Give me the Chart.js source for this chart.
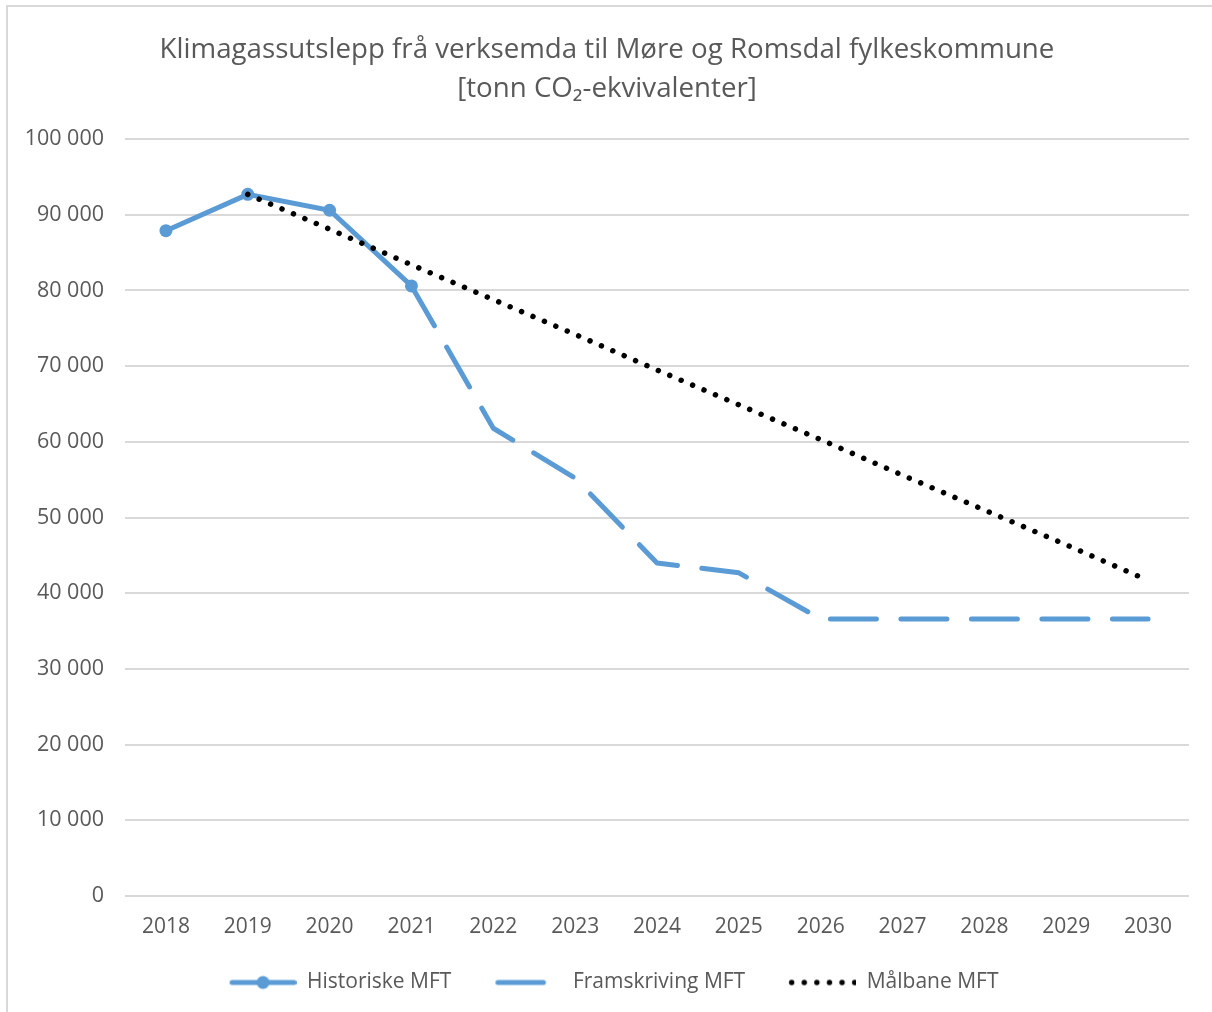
<!DOCTYPE html>
<html>
<head>
<meta charset="utf-8">
<script src="https://cdn.jsdelivr.net/npm/chart.js@4"></script>
<style>
  html, body { margin: 0; padding: 0; background: #fff; }
  #frame {
    position: absolute; left: 6px; top: 5px; width: 1206px; height: 1007px;
    border-left: 2px solid #d9d9d9; border-top: 2px solid #d9d9d9;
    box-sizing: border-box;
  }
  #wrap { position: absolute; left: 8px; top: 7px; width: 1204px; height: 1005px; }
</style>
</head>
<body>
<div id="frame"></div>
<div id="wrap"><canvas id="chart"></canvas></div>
<script>
const years = ['2018', '2019', '2020', '2021', '2022', '2023', '2024', '2025', '2026', '2027', '2028', '2029', '2030'];
const historiske = [87900, 92700, 90600, 80600, null, null, null, null, null, null, null, null, null];
const framskriving = [null, null, null, 80600, 61800, 55200, 44000, 42700, 36600, 36600, 36600, 36600, 36600];
const maalbane = [null, 92700, 88100, 83400, 78800, 74200, 69500, 64900, 60300, 55600, 51000, 46400, 41700];
const yTicks = [0, 10000, 20000, 30000, 40000, 50000, 60000, 70000, 80000, 90000, 100000];

const blue = '#5b9bd5';
const grey = '#595959';
const font = '"Open Sans", "Noto Sans", sans-serif';

// legend keys drawn on small canvases, left part left empty as spacing
function legendKey(kind) {
  const m = 32.5;
  const c = document.createElement('canvas');
  c.width = 97; c.height = 16;
  const ctx = c.getContext('2d');
  ctx.lineCap = 'round';
  ctx.lineWidth = 5;
  if (kind === 'hist') {
    ctx.strokeStyle = blue;
    ctx.beginPath(); ctx.moveTo(m, 8); ctx.lineTo(m + 62, 8); ctx.stroke();
    ctx.fillStyle = blue;
    ctx.beginPath(); ctx.arc(m + 31, 8, 6.5, 0, Math.PI * 2); ctx.fill();
  } else if (kind === 'fram') {
    ctx.strokeStyle = blue;
    ctx.beginPath(); ctx.moveTo(m, 8); ctx.lineTo(m + 45.5, 8); ctx.stroke();
  } else {
    ctx.fillStyle = '#000';
    for (let i = 0; i < 6; i++) {
      ctx.beginPath(); ctx.arc(m + i * 12.6, 8, 2.7, 0, Math.PI * 2); ctx.fill();
    }
  }
  return c;
}
const keys = [legendKey('hist'), legendKey('fram'), legendKey('mal')];

// nudge the legend row a little to the left, like the original
const legendShift = {
  id: 'legendShift',
  afterLayout(chart) {
    chart.legend.left -= 16;
  }
};

new Chart(document.getElementById('chart'), {
  type: 'line',
  data: {
    labels: years,
    datasets: [
      {
        label: 'Historiske MFT',
        data: historiske,
        borderColor: blue,
        backgroundColor: blue,
        borderWidth: 5,
        pointRadius: 6.5,
        pointBorderWidth: 0,
        pointBackgroundColor: blue,
        tension: 0,
        order: 1
      },
      {
        label: 'Framskriving MFT',
        data: framskriving,
        borderColor: blue,
        borderWidth: 5,
        borderDash: [46, 24.5],
        borderCapStyle: 'round',
        borderJoinStyle: 'round',
        pointRadius: 0,
        tension: 0,
        order: 2
      },
      {
        label: 'Målbane MFT',
        data: maalbane,
        borderColor: '#000',
        borderWidth: 5.5,
        borderDash: [0.01, 12.4],
        borderCapStyle: 'round',
        pointRadius: 0,
        tension: 0,
        order: 0
      }
    ]
  },
  options: {
    responsive: true,
    maintainAspectRatio: false,
    animation: false,
    layout: { padding: { left: 17, right: 23, top: 23.5, bottom: 9 } },
    plugins: {
      title: {
        display: true,
        text: ['Klimagassutslepp frå verksemda til Møre og Romsdal fylkeskommune', '[tonn CO₂-ekvivalenter]'],
        color: grey,
        font: { family: font, size: 27.7, weight: 'normal', lineHeight: 1.41 },
        padding: { top: 0, bottom: 30.5 }
      },
      legend: {
        position: 'bottom',
        labels: {
          usePointStyle: true,
          pointStyleWidth: 97,
          boxHeight: 16,
          padding: 14,
          color: grey,
          font: { family: font, size: 21 },
          generateLabels: (chart) => chart.data.datasets.map((ds, i) => ({
            text: ds.label,
            pointStyle: keys[i],
            fillStyle: 'transparent',
            strokeStyle: 'transparent',
            lineWidth: 0,
            fontColor: grey,
            datasetIndex: i
          }))
        }
      },
      tooltip: { enabled: false }
    },
    scales: {
      x: {
        offset: true,
        grid: { display: false, drawTicks: false },
        border: { display: false },
        ticks: { color: grey, font: { family: font, size: 21 }, padding: 18.4 }
      },
      y: {
        min: 0,
        max: 100000,
        afterBuildTicks: (axis) => { axis.ticks = yTicks.map(v => ({ value: v })); },
        afterFit: (axis) => { axis.width = 100; },
        grid: { color: '#d9d9d9', lineWidth: 2, drawTicks: false },
        border: { display: false },
        ticks: {
          color: grey,
          font: { family: font, size: 21.5 },
          padding: 21,
          callback: (v) => v.toLocaleString('en-US').replace(/,/g, ' ')
        }
      }
    }
  },
  plugins: [legendShift]
});
</script>
</body>
</html>
